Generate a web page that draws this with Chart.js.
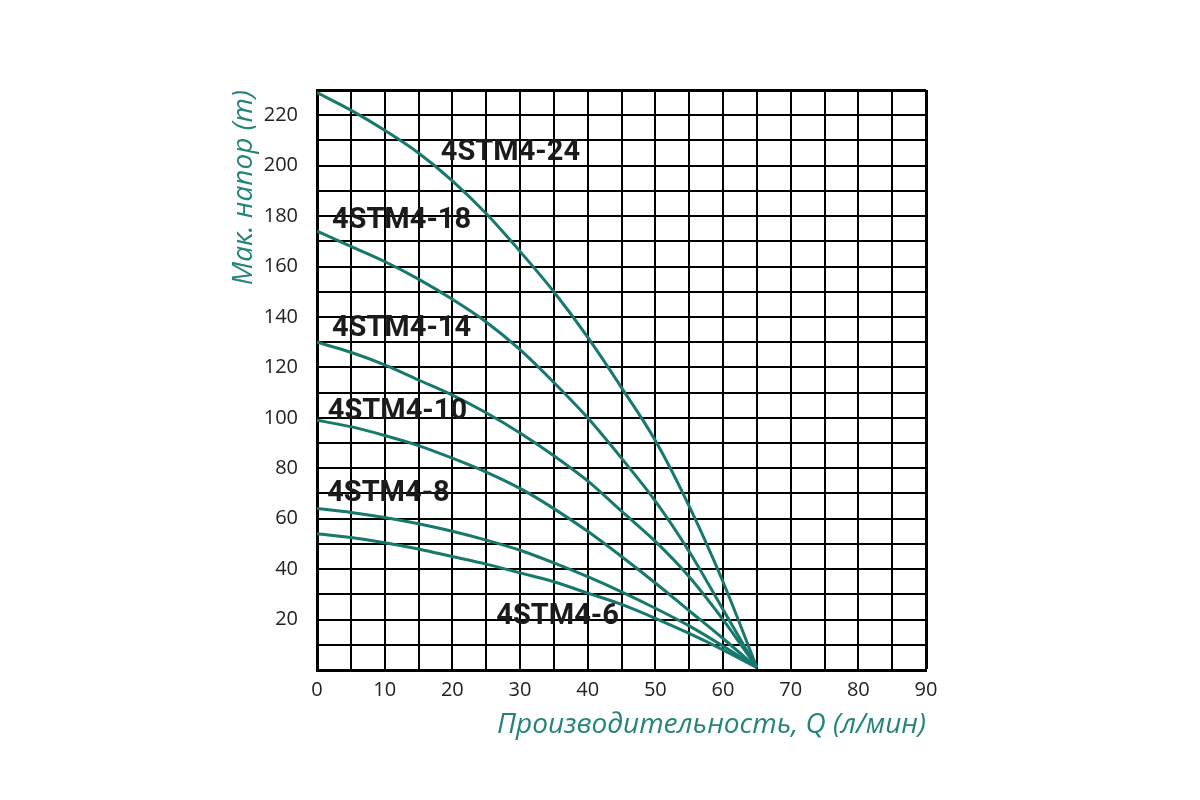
<!DOCTYPE html>
<html>
<head>
<meta charset="utf-8">
<script src="https://cdn.jsdelivr.net/npm/chart.js@4"></script>
<style>
  html, body { margin: 0; padding: 0; background: #fff; }
  #wrap { width: 1200px; height: 800px; }
</style>
</head>
<body>
<div id="wrap"><canvas id="pumpChart" width="1200" height="800"></canvas></div>
<script>
// flow Q (l/min) sample points shared by all curves
const flow = [0, 5, 10, 15, 20, 25, 30, 35, 40, 45, 50, 55, 60, 65];

// head (m)
const head24 = [229, 222, 214, 205, 194, 181, 166, 150, 132, 112, 91, 65, 35, 1];
const head18 = [174, 168, 162, 155, 147, 138, 127, 114, 100, 84, 67, 47, 24, 1];
const head14 = [130, 126, 121, 115, 109, 102, 94, 85, 75, 63, 51, 37, 20, 1];
const head10 = [99, 96.5, 93, 89, 84, 78.5, 72, 64, 55, 45, 34.5, 23.5, 12.5, 1];
const head8 = [64, 62.5, 60.5, 58, 55, 51.5, 47.5, 42.5, 37, 31, 24.5, 17.5, 9.5, 1];
const head6 = [54, 52.5, 50.5, 48, 45, 42, 38.5, 35, 30.5, 26, 20.5, 14.5, 8, 1];

const seriesNames = ['4STM4-24', '4STM4-18', '4STM4-14', '4STM4-10', '4STM4-8', '4STM4-6'];
const seriesHeads = [head24, head18, head14, head10, head8, head6];

const xTickLabels = [0, 10, 20, 30, 40, 50, 60, 70, 80, 90];
const yTickLabels = [20, 40, 60, 80, 100, 120, 140, 160, 180, 200, 220];

// where each curve name sits (left edge, vertical middle), in data units
const labelAt = [[18.3, 205], [2.2, 178], [2.2, 135.5], [1.6, 102.5], [1.5, 70], [26.5, 21]];

const teal = '#17786c';

// curve names written straight on the grid
const curveLabels = {
  id: 'curveLabels',
  afterDatasetsDraw(chart) {
    const { ctx, scales: { x, y } } = chart;
    ctx.save();
    ctx.font = 'bold 29px Roboto, "Open Sans", sans-serif';
    ctx.fillStyle = '#1b1b1b';
    ctx.textAlign = 'left';
    ctx.textBaseline = 'middle';
    seriesNames.forEach((name, i) => {
      ctx.fillText(name, x.getPixelForValue(labelAt[i][0]), y.getPixelForValue(labelAt[i][1]));
    });
    ctx.restore();
  }
};

new Chart(document.getElementById('pumpChart'), {
  type: 'line',
  data: {
    datasets: seriesNames.map((name, i) => ({
      label: name,
      data: flow.map((q, j) => ({ x: q, y: seriesHeads[i][j] })),
      borderColor: teal,
      borderWidth: 3,
      pointRadius: 0,
      cubicInterpolationMode: 'monotone',
      fill: false
    }))
  },
  options: {
    responsive: false,
    animation: false,
    layout: { padding: { left: 223, top: 90, right: 274, bottom: 54 } },
    plugins: { legend: { display: false }, tooltip: { enabled: false } },
    scales: {
      x: {
        type: 'linear',
        min: 0,
        max: 90,
        afterFit: s => { s.height = 76; },
        border: { display: true, color: '#000', width: 3 },
        grid: {
          color: '#000',
          lineWidth: c => (c.tick && c.tick.value === 90 ? 3 : 2),
          drawTicks: false
        },
        ticks: {
          stepSize: 5,
          padding: 8,
          maxRotation: 0,
          autoSkip: false,
          color: '#222',
          font: { family: '"Open Sans", sans-serif', size: 20 },
          callback: v => (xTickLabels.includes(v) ? String(v) : '')
        },
        title: {
          display: true,
          text: 'Производительность, Q (л/мин)',
          align: 'end',
          color: '#24847a',
          font: { family: '"Open Sans", sans-serif', size: 28, style: 'italic' }
        }
      },
      y: {
        min: 0,
        max: 230,
        afterFit: s => { s.width = 94; },
        border: { display: true, color: '#000', width: 3 },
        grid: {
          color: '#000',
          lineWidth: c => (c.tick && c.tick.value === 230 ? 3 : 2),
          drawTicks: false
        },
        ticks: {
          stepSize: 10,
          padding: 19,
          autoSkip: false,
          color: '#222',
          font: { family: '"Open Sans", sans-serif', size: 20 },
          callback: v => (yTickLabels.includes(v) ? String(v) : '')
        },
        title: {
          display: true,
          text: 'Мак. напор (m)',
          align: 'end',
          color: '#24847a',
          font: { family: '"Open Sans", sans-serif', size: 28, style: 'italic' }
        }
      }
    }
  },
  plugins: [curveLabels]
});
</script>
</body>
</html>
